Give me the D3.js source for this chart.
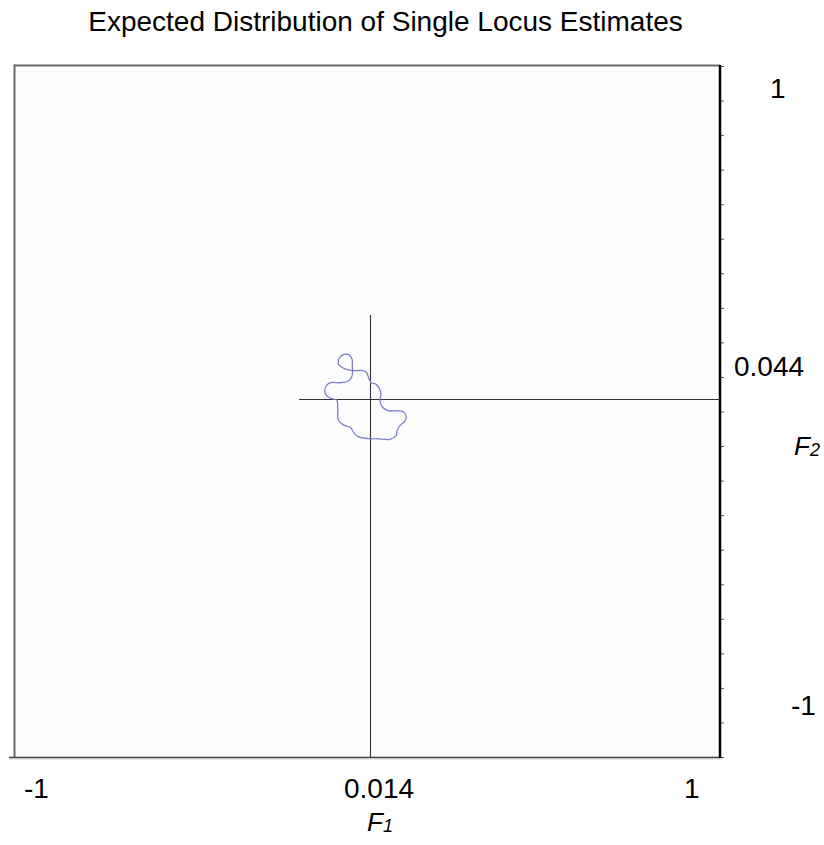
<!DOCTYPE html>
<html>
<head>
<meta charset="utf-8">
<script src="https://cdn.jsdelivr.net/npm/d3@7"></script>
<style>
  html, body { margin: 0; padding: 0; background: #fff; }
  svg { display: block; }
  text { font-family: "Liberation Sans", Arial, Helvetica, sans-serif; fill: #000; }
</style>
</head>
<body>
<svg id="chart" width="824" height="845"></svg>
<script>
// ---- data ----
const title = "Expected Distribution of Single Locus Estimates";
const xTickLabels = ["-1", "0.014", "1"];
const yTickLabels = ["1", "0.044", "-1"];
const center = [0.014, 0.044];            // mean F1, F2
const crossStartF1 = -0.186;               // left end of horizontal cross line
const crossTopF2 = 0.287;                  // top end of vertical cross line
const contourF1 = [-0.075,-0.070,-0.058,-0.043,-0.035,-0.035,-0.034,-0.037,-0.046,-0.070,-0.093,-0.107,-0.113,-0.107,-0.093,-0.079,-0.076,-0.075,-0.060,-0.041,-0.030,-0.018,0.011,0.034,0.072,0.089,0.093,0.102,0.114,0.118,0.110,0.091,0.067,0.051,0.044,0.046,0.042,0.032,0.018,0.012,0.006,-0.004,-0.032,-0.056,-0.070];
const contourF2 = [0.147,0.165,0.173,0.171,0.157,0.140,0.123,0.106,0.096,0.091,0.092,0.085,0.068,0.053,0.045,0.041,0.017,-0.015,-0.031,-0.038,-0.054,-0.065,-0.071,-0.071,-0.073,-0.063,-0.046,-0.031,-0.021,-0.006,0.007,0.010,0.010,0.020,0.036,0.058,0.075,0.087,0.092,0.104,0.120,0.126,0.126,0.131,0.140];
const yMinorTicks = d3.range(-1, 1.0001, 0.1);

// ---- layout ----
const svg = d3.select("#chart");
const frame = { left: 15, right: 720, top: 66, bottom: 757 };

// axis (frame) scales
const xAxisScale = d3.scaleLinear().domain([-1, 1]).range([frame.left, frame.right]);
const yAxisScale = d3.scaleLinear().domain([-1, 1]).range([frame.bottom, frame.top]);
// data scales (same unit size, registered so the mean falls where the original drew it)
const xs = d3.scaleLinear().domain([-0.9917, 1.0083]).range([frame.left, frame.right]);
const ys = d3.scaleLinear().domain([-0.9922, 1.0078]).range([frame.bottom, frame.top]);

// title
svg.append("text")
  .attr("x", 385.5).attr("y", 31)
  .attr("text-anchor", "middle")
  .style("font-size", "28px")
  .text(title);

// frame
const g = svg.append("g");
g.append("rect").attr("x", frame.left).attr("y", frame.top)
  .attr("width", frame.right - frame.left).attr("height", frame.bottom - frame.top)
  .attr("fill", "#fdfdfd");
g.append("line").attr("x1", frame.left - 1).attr("x2", frame.right).attr("y1", frame.top - 0.5).attr("y2", frame.top - 0.5)
  .attr("stroke", "#6a6a6a").attr("stroke-width", 2);
g.append("line").attr("x1", frame.left - 0.5).attr("x2", frame.left - 0.5).attr("y1", frame.top - 1.5).attr("y2", frame.bottom + 1)
  .attr("stroke", "#6a6a6a").attr("stroke-width", 2);
g.append("line").attr("x1", frame.left - 6).attr("x2", frame.right + 2).attr("y1", frame.bottom + 0.5).attr("y2", frame.bottom + 0.5)
  .attr("stroke", "#3c3c3c").attr("stroke-width", 1.6);
g.append("line").attr("x1", frame.left - 6).attr("x2", frame.right + 2).attr("y1", frame.bottom + 2).attr("y2", frame.bottom + 2)
  .attr("stroke", "#cfcfcf").attr("stroke-width", 1);

// right axis with minor ticks
const yAxis = d3.axisRight(yAxisScale).tickValues(yMinorTicks).tickSize(3).tickFormat("");
const ya = svg.append("g").attr("transform", `translate(${frame.right + 1},0)`).call(yAxis);
ya.select(".domain").remove();
ya.selectAll(".tick line").attr("stroke", "#555").attr("stroke-width", 1);
svg.append("line").attr("x1", frame.right).attr("x2", frame.right)
  .attr("y1", frame.top - 1).attr("y2", frame.bottom + 1)
  .attr("stroke", "#000").attr("stroke-width", 2.5);

// cross lines through the mean
svg.append("line")
  .attr("x1", xs(crossStartF1)).attr("x2", frame.right)
  .attr("y1", Math.round(ys(center[1])) + 0.5).attr("y2", Math.round(ys(center[1])) + 0.5)
  .attr("stroke", "#333").attr("stroke-width", 1.1);
svg.append("line")
  .attr("x1", Math.round(xs(center[0])) + 0.5).attr("x2", Math.round(xs(center[0])) + 0.5)
  .attr("y1", ys(crossTopF2)).attr("y2", frame.bottom)
  .attr("stroke", "#333").attr("stroke-width", 1.1);

// contour
const pts = contourF1.map((f, i) => [f, contourF2[i]]);
const line = d3.line().x(d => xs(d[0])).y(d => ys(d[1])).curve(d3.curveCatmullRomClosed.alpha(0.5));
svg.append("path").datum(pts)
  .attr("d", line)
  .attr("fill", "none")
  .attr("stroke", "#7b7fcc")
  .attr("stroke-width", 1.3);

// tick labels (bottom)
const fs = "28px";
const xLabelPos = [[24, 798], [344, 798], [684, 798]];
xTickLabels.forEach((t, i) => {
  svg.append("text").attr("x", xLabelPos[i][0]).attr("y", xLabelPos[i][1])
    .style("font-size", fs).text(t);
});
// tick labels (right)
const yLabelPos = [[770, 98], [734, 376], [791, 715]];
yTickLabels.forEach((t, i) => {
  svg.append("text").attr("x", yLabelPos[i][0]).attr("y", yLabelPos[i][1])
    .style("font-size", fs).text(t);
});

// axis titles
const f1 = svg.append("text").attr("x", 367).attr("y", 831).style("font-size", "26px").style("font-style", "italic");
f1.append("tspan").text("F");
f1.append("tspan").style("font-size", "18px").attr("dy", 1).text("1");
const f2 = svg.append("text").attr("x", 794).attr("y", 455).style("font-size", "26px").style("font-style", "italic");
f2.append("tspan").text("F");
f2.append("tspan").style("font-size", "18px").attr("dy", 1).text("2");
</script>
</body>
</html>
